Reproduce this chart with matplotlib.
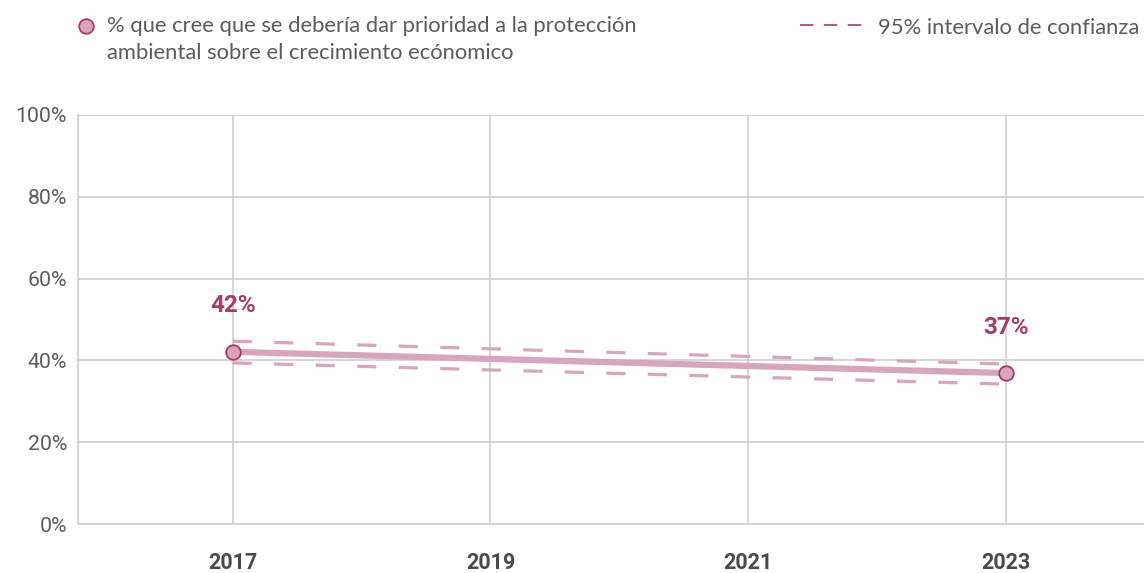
import matplotlib.pyplot as plt
from matplotlib.lines import Line2D

# Data
years = [2017, 2023]
share = [42.1, 36.9]
ci_upper = [44.7, 39.1]
ci_lower = [39.4, 34.2]
value_labels = ["42%", "37%"]
xticks = [2017, 2019, 2021, 2023]
yticks = [0, 20, 40, 60, 80, 100]
legend_main = "% que cree que se debería dar prioridad a la protección\nambiental sobre el crecimiento ecónomico"
legend_ci = "95% intervalo de confianza"

line_color = "#d9a5bd"
dark_color = "#a93a6c"
grid_color = "#cfcfcf"
text_color = "#5c5c60"

W, H = 1144, 573
fig = plt.figure(figsize=(W / 100, H / 100), dpi=100)
ax = fig.add_axes([78 / W, 1 - 524 / H, 1 - 78 / W, (524 - 115) / H])

# confidence interval
ax.plot(years, ci_upper, color=line_color, lw=2.3, dashes=(6, 7), zorder=2)
ax.plot(years, ci_lower, color=line_color, lw=2.3, dashes=(6, 7), zorder=2)

# main line
ax.plot(years, share, color=line_color, lw=4.5, solid_capstyle="butt", zorder=3)
ax.plot(years, share, "o", ms=10.5, mfc=line_color, mec=dark_color, mew=1.3,
        zorder=4, clip_on=False)

for x, y, lab in zip(years, share, value_labels):
    ax.annotate(lab, (x, y), xytext=(0, 33), textcoords="offset points",
                ha="center", va="center", color=dark_color, fontsize=17.5,
                fontweight="bold", family="Roboto")

ax.set_xlim(2015.8, 2024.07)
ax.set_ylim(0, 100)
ax.set_xticks(xticks)
ax.set_yticks(yticks)
ax.set_yticklabels([f"{v}%" for v in yticks])
ax.grid(True, color=grid_color, lw=1.2)
ax.set_axisbelow(True)
for side in ["top", "right"]:
    ax.spines[side].set_visible(False)
for side in ["left", "bottom"]:
    ax.spines[side].set_color(grid_color)
    ax.spines[side].set_linewidth(1.2)
ax.tick_params(length=0)
ax.tick_params(axis="y", pad=8, labelsize=15.3, labelcolor=text_color)
ax.tick_params(axis="x", pad=20, labelsize=15.5, labelcolor="#4a4a4e")
for t in ax.get_yticklabels():
    t.set_family("Roboto")
for t in ax.get_xticklabels():
    t.set_family("Roboto")
    t.set_fontweight("bold")

# legend, laid out by hand
fig.add_artist(Line2D([86 / W], [1 - 26 / H], marker="o", ls="none", ms=10.5,
                      mfc=line_color, mec=dark_color, mew=1.3))
fig.text(107 / W, 1 - 16 / H, legend_main, ha="left", va="top", family="Lato",
         fontsize=15.8, color=text_color, linespacing=1.42)
fig.add_artist(Line2D([800 / W, 862 / W], [1 - 25 / H, 1 - 25 / H], color=dark_color,
                      lw=1.2, dashes=(8.1, 6.2)))
fig.text(878 / W, 1 - 26 / H, legend_ci, ha="left", va="center_baseline", family="Lato",
         fontsize=15.8, color=text_color)

fig.savefig("out.png", dpi=100)
